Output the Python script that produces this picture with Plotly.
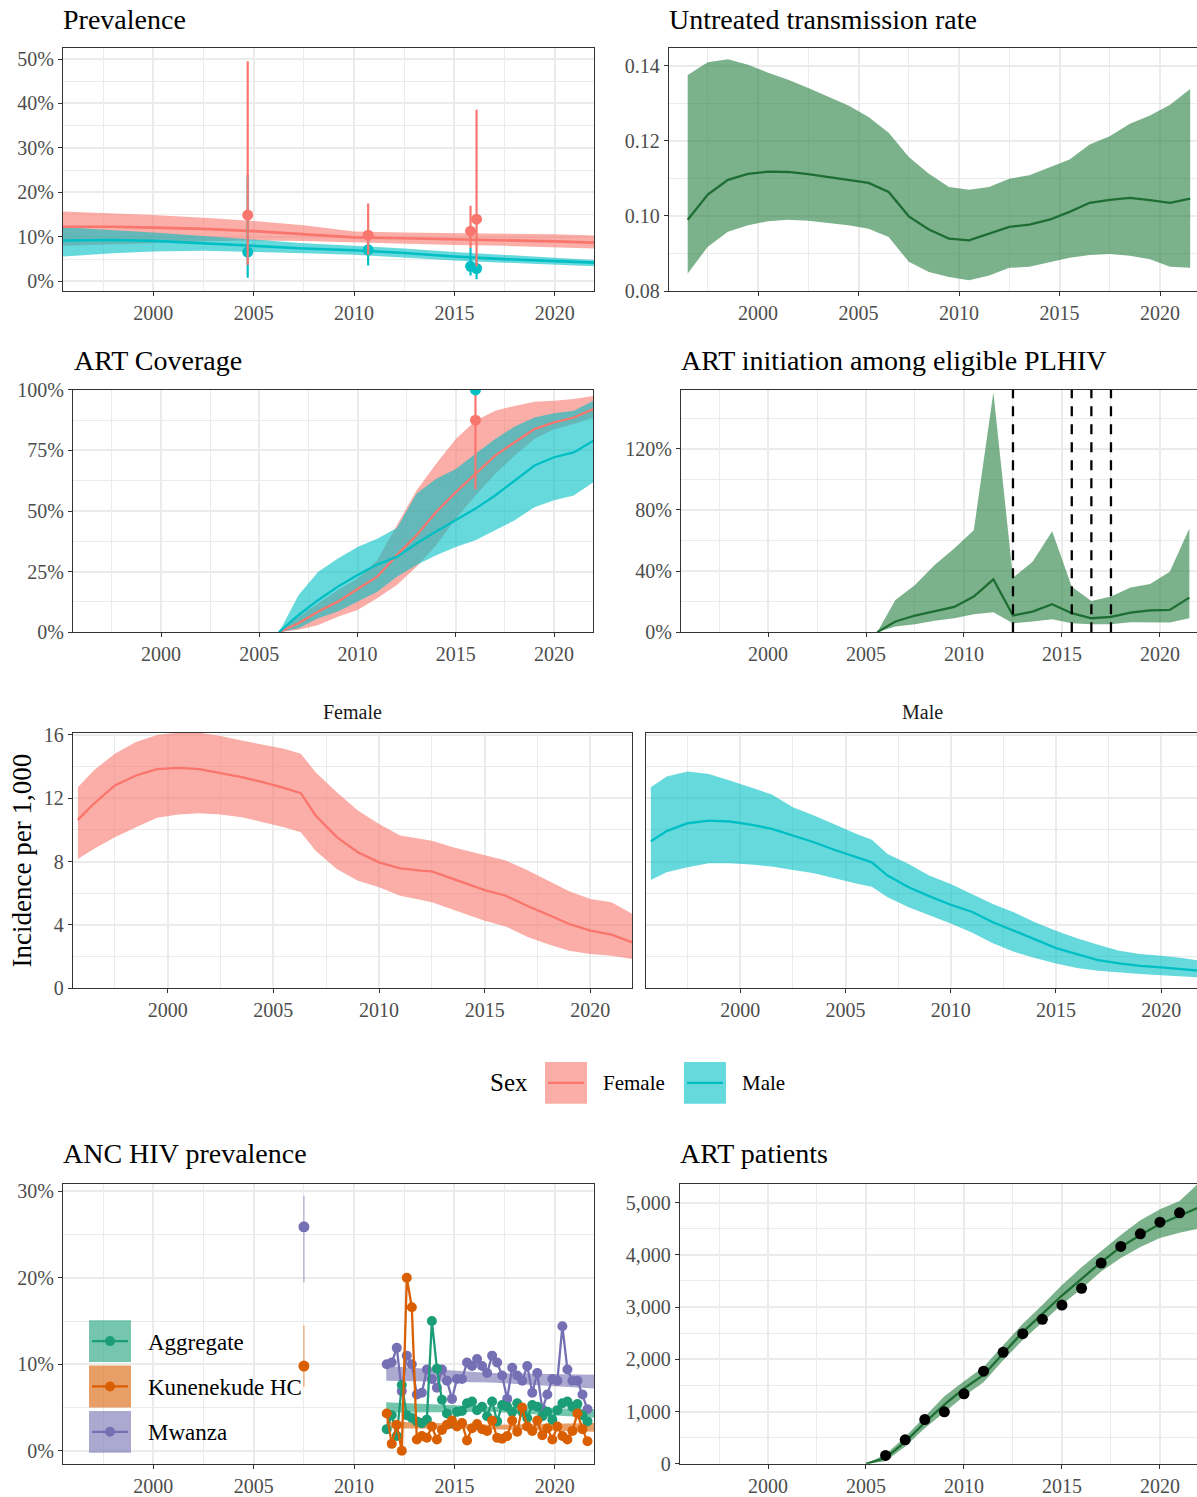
import plotly.graph_objects as go

W, H = 1197, 1497
FONT = "Liberation Serif"

# ---------------- data ----------------
# Prevalence model (percent), by sex
prev_years = [1995.5, 1998.0, 2000.0, 2002.5, 2005.0, 2007.5, 2010.0, 2012.5, 2015.0, 2017.5, 2020.0, 2022.0]
prev_f = [12.3, 12.3, 12.1, 11.8, 11.3, 10.6, 9.9, 9.7, 9.5, 9.3, 9.0, 8.7]
prev_f_lo = [8.0, 8.3, 8.6, 9.0, 9.2, 9.1, 8.9, 8.5, 8.2, 8.0, 7.7, 7.4]
prev_f_hi = [15.7, 15.3, 14.9, 14.3, 13.6, 12.6, 11.2, 11.0, 10.8, 10.7, 10.6, 10.3]
prev_m = [9.2, 9.3, 9.1, 8.6, 8.0, 7.4, 7.0, 6.4, 5.6, 5.0, 4.5, 4.2]
prev_m_lo = [5.6, 6.3, 6.7, 6.9, 6.6, 6.3, 6.0, 5.4, 4.7, 4.2, 3.7, 3.4]
prev_m_hi = [12.2, 11.6, 11.0, 10.2, 9.4, 8.6, 8.0, 7.4, 6.6, 5.9, 5.2, 4.8]
# Prevalence survey points (percent)
survey_years = [2004.7, 2010.7, 2015.8, 2016.1]
survey_f = [14.9, 10.4, 11.3, 14.0]
survey_f_lo = [3.7, 6.0, 7.5, 3.4]
survey_f_hi = [49.5, 17.5, 17.0, 38.6]
survey_m = [6.6, 7.1, 3.4, 2.9]
survey_m_lo = [0.8, 3.6, 1.3, 0.5]
survey_m_hi = [24.0, 10.0, 7.5, 6.0]

# Untreated transmission rate
trans_years = [1996.5, 1997.5, 1998.5, 1999.5, 2000.5, 2001.5, 2002.5, 2003.5, 2004.5, 2005.5,
               2006.5, 2007.5, 2008.5, 2009.5, 2010.5, 2011.5, 2012.5, 2013.5, 2014.5, 2015.5,
               2016.5, 2017.5, 2018.5, 2019.5, 2020.5, 2021.5]
trans_mid = [0.0990, 0.1057, 0.1096, 0.1112, 0.1118, 0.1117, 0.1111, 0.1104, 0.1096, 0.1088,
             0.1064, 0.0999, 0.0964, 0.0940, 0.0935, 0.0953, 0.0971, 0.0977, 0.0990, 0.1011,
             0.1035, 0.1043, 0.1048, 0.1042, 0.1035, 0.1046]
trans_hi = [0.1375, 0.1409, 0.1417, 0.1402, 0.1381, 0.1362, 0.1340, 0.1318, 0.1294, 0.1263,
            0.1221, 0.1157, 0.1112, 0.1077, 0.1070, 0.1077, 0.1099, 0.1108, 0.1130, 0.1150,
            0.1190, 0.1212, 0.1245, 0.1267, 0.1296, 0.1338]
trans_lo = [0.0847, 0.0918, 0.0958, 0.0975, 0.0986, 0.0990, 0.0987, 0.0981, 0.0975, 0.0966,
            0.0944, 0.0878, 0.0851, 0.0838, 0.0829, 0.0842, 0.0862, 0.0865, 0.0878, 0.0889,
            0.0896, 0.0899, 0.0894, 0.0885, 0.0865, 0.0862]

# ART coverage (percent)
cov_years = [2006, 2007, 2008, 2009, 2010, 2011, 2012, 2013, 2014, 2015, 2016, 2017, 2018, 2019, 2020, 2021, 2022]
cov_f = [0, 3.7, 8.5, 12.6, 17.8, 22.9, 31.8, 40.0, 49.6, 57.8, 65.3, 72.9, 78.4, 83.8, 86.6, 88.6, 92.1]
cov_f_hi = [0, 6.4, 11.9, 17.4, 22.2, 29.7, 44.1, 58.5, 69.5, 79.7, 87.3, 91.4, 93.4, 95.1, 95.5, 96.2, 97.5]
cov_f_lo = [0, 1.0, 3.0, 6.4, 9.2, 14.0, 19.5, 27.0, 35.9, 46.8, 56.4, 65.3, 72.9, 79.7, 83.8, 85.9, 88.6]
cov_m = [0, 7.1, 13.3, 18.8, 23.6, 27.9, 31.1, 36.6, 41.6, 46.2, 51.0, 56.4, 62.6, 68.8, 72.2, 74.2, 79.0]
cov_m_hi = [0, 15.3, 24.9, 30.4, 35.2, 38.6, 43.0, 57.1, 63.3, 67.4, 73.6, 79.7, 84.9, 88.6, 90.4, 91.4, 95.5]
cov_m_lo = [0, 1.6, 5.8, 8.5, 12.6, 16.7, 22.9, 27.7, 31.8, 35.2, 37.9, 42.1, 46.2, 51.6, 54.4, 56.4, 61.9]
cov_pt_years = [2016.0]
cov_pt_f = [87.5]
cov_pt_f_lo = [59.0]
cov_pt_f_hi = [100.0]
cov_pt_m = [100.0]

# ART initiation among eligible PLHIV (percent)
init_years = [2005.57, 2006.5, 2007.5, 2008.5, 2009.5, 2010.5, 2011.5, 2012.5, 2013.5, 2014.5,
              2015.5, 2016.5, 2017.5, 2018.5, 2019.5, 2020.5, 2021.5]
init_mid = [0, 7.0, 10.9, 13.9, 16.5, 23.3, 34.6, 10.9, 13.5, 18.3, 12.4, 9.1, 10.0, 12.8, 14.3, 14.6, 22.6]
init_hi = [0, 21.1, 30.9, 43.9, 54.8, 66.7, 157.0, 35.7, 46.1, 66.1, 29.8, 20.4, 23.3, 29.3, 31.5, 39.6, 67.8]
init_lo = [0, 3.7, 5.2, 7.4, 9.1, 11.7, 13.0, 5.9, 7.0, 8.5, 5.9, 5.2, 5.2, 6.5, 6.5, 6.3, 9.1]
policy_years = [2012.5, 2015.5, 2016.5, 2017.5]

# Incidence per 1,000
inc_years_f = [1995.75, 1996.5, 1997.5, 1998.5, 1999.5, 2000.5, 2001.5, 2002.5, 2003.5, 2004.5,
               2005.5, 2006.3, 2007, 2008, 2009, 2010, 2011, 2012, 2012.5, 2013.5,
               2015, 2016, 2017, 2018, 2019, 2020, 2021, 2022]
inc_f = [10.63, 11.65, 12.81, 13.44, 13.84, 13.92, 13.84, 13.59, 13.33, 13.02,
         12.66, 12.32, 10.91, 9.54, 8.59, 7.95, 7.57, 7.43, 7.38, 6.90,
         6.20, 5.84, 5.21, 4.64, 4.05, 3.63, 3.38, 2.89]
inc_f_hi = [12.70, 13.76, 14.81, 15.55, 16.0, 16.14, 16.14, 15.93, 15.65, 15.40,
            15.13, 14.81, 13.65, 12.38, 11.22, 10.38, 9.64, 9.43, 9.32, 8.90,
            8.38, 8.06, 7.47, 6.79, 6.12, 5.63, 5.42, 4.68]
inc_f_lo = [8.16, 8.80, 9.54, 10.17, 10.76, 10.97, 11.05, 10.97, 10.80, 10.49,
            10.17, 9.85, 8.69, 7.53, 6.79, 6.37, 5.84, 5.57, 5.42, 4.94,
            4.26, 3.90, 3.25, 2.78, 2.36, 2.15, 2.05, 1.84]
inc_years_m = [1995.75, 1996.5, 1997.5, 1998.5, 1999.5, 2000.5, 2001.5, 2002.5, 2003.5, 2004.5,
               2005.5, 2006.25, 2007, 2008, 2009, 2010, 2011, 2012, 2013, 2014,
               2015, 2016, 2017, 2018, 2019, 2020, 2021, 2022]
inc_m = [9.28, 9.92, 10.42, 10.59, 10.53, 10.34, 10.06, 9.64, 9.22, 8.73,
         8.31, 7.95, 7.11, 6.37, 5.80, 5.27, 4.83, 4.16, 3.63, 3.10,
         2.53, 2.15, 1.77, 1.56, 1.41, 1.31, 1.20, 1.08]
inc_m_hi = [12.70, 13.38, 13.69, 13.54, 13.12, 12.70, 12.24, 11.43, 10.91, 10.34,
            9.75, 9.37, 8.48, 7.85, 7.11, 6.58, 5.95, 5.32, 4.79, 4.16,
            3.63, 3.16, 2.74, 2.36, 2.15, 2.05, 1.90, 1.70]
inc_m_lo = [6.84, 7.32, 7.64, 7.89, 7.89, 7.81, 7.68, 7.47, 7.26, 6.96,
            6.62, 6.41, 5.74, 5.11, 4.58, 4.09, 3.52, 2.83, 2.30, 1.90,
            1.56, 1.27, 1.10, 0.99, 0.89, 0.82, 0.76, 0.66]

# ANC HIV prevalence (percent), quarterly site data
anc_quarters = [2011.625, 2011.875, 2012.125, 2012.375, 2012.625, 2012.875, 2013.125, 2013.375,
                2013.625, 2013.875, 2014.125, 2014.375, 2014.625, 2014.875, 2015.125, 2015.375,
                2015.625, 2015.875, 2016.125, 2016.375, 2016.625, 2016.875, 2017.125, 2017.375,
                2017.625, 2017.875, 2018.125, 2018.375, 2018.625, 2018.875, 2019.125, 2019.375,
                2019.625, 2019.875, 2020.125, 2020.375, 2020.625, 2020.875, 2021.125, 2021.375,
                2021.625]
anc_aggregate = [2.5, 4.1, 1.7, 7.6, 4.1, 3.8, 3.4, 3.2, 3.6, 15.0,
                 9.5, 5.9, 4.3, 3.2, 4.5, 4.6, 5.5, 5.7, 4.7, 5.1,
                 4.0, 5.7, 3.4, 5.3, 5.1, 4.5, 5.5, 4.5, 3.8, 5.3,
                 5.1, 4.0, 4.5, 3.6, 4.7, 5.5, 5.7, 5.1, 5.4, 4.1,
                 3.4]
anc_kunenekude = [4.3, 0.8, 3.0, 0.0, 20.0, 16.6, 1.3, 1.7, 1.5, 2.8,
                  1.3, 2.4, 3.0, 3.5, 2.8, 3.2, 1.2, 2.6, 3.1, 2.5,
                  2.3, 3.5, 1.5, 1.4, 1.7, 3.5, 2.2, 5.0, 2.8, 2.3,
                  3.5, 1.8, 2.6, 1.3, 2.8, 1.7, 1.3, 2.3, 4.3, 2.5,
                  1.1]
anc_mwanza = [10.0, 10.2, 11.9, 6.9, 11.0, 10.0, 6.5, 6.7, 9.4, 8.3,
              7.3, 9.4, 8.1, 6.0, 8.3, 8.3, 10.2, 9.8, 10.6, 9.8,
              9.0, 11.0, 10.2, 8.7, 6.0, 9.6, 8.7, 8.1, 9.8, 6.7,
              9.0, 4.8, 6.5, 8.3, 8.1, 14.4, 9.4, 8.1, 8.1, 6.5,
              4.8]
# early survey points (percent)
anc_early_year = [2007.5]
anc_early_kun = [9.8]
anc_early_kun_lo = [7.4]
anc_early_kun_hi = [14.5]
anc_early_mwa = [25.9]
anc_early_mwa_lo = [19.5]
anc_early_mwa_hi = [29.5]
# fitted ribbons (percent)
anc_fit_years = [2011.6, 2016.8, 2022.0]
agg_fit_lo = [4.4, 4.5, 3.8]
agg_fit_hi = [5.6, 5.1, 4.8]
kun_fit_lo = [2.6, 2.5, 2.2]
kun_fit_hi = [3.4, 3.0, 3.2]
mwa_fit_lo = [8.1, 7.9, 7.2]
mwa_fit_hi = [9.8, 9.0, 8.8]
anc_sites = ["Aggregate", "Kunenekude HC", "Mwanza"]

# ART patients
pat_pt_years = [2006, 2007, 2008, 2009, 2010, 2011, 2012, 2013, 2014, 2015, 2016, 2017, 2018, 2019, 2020, 2021]
pat_pts = [159, 459, 847, 994, 1338, 1771, 2134, 2490, 2764, 3038, 3357, 3841, 4159, 4401, 4624, 4803]
pat_years = [2005, 2006, 2007, 2008, 2009, 2010, 2011, 2012, 2013, 2014, 2015, 2016, 2017, 2018, 2019, 2020, 2021, 2022]
pat_mid = [0, 110, 420, 790, 1130, 1440, 1700, 2120, 2520, 2870, 3220, 3540, 3860, 4150, 4380, 4590, 4750, 4910]
pat_hi = [0, 180, 510, 900, 1290, 1580, 1850, 2270, 2680, 3040, 3420, 3760, 4070, 4380, 4660, 4870, 5030, 5380]
pat_lo = [0, 50, 330, 680, 980, 1290, 1560, 1980, 2370, 2710, 3050, 3350, 3680, 3940, 4150, 4320, 4420, 4500]

# ---------------- styles ----------------
F_COL, M_COL = "#F8766D", "#00BFC4"
F_FILL, M_FILL = "rgba(248,118,109,0.6)", "rgba(0,191,196,0.6)"
G_LINE, G_FILL = "#1E6E34", "rgba(27,120,55,0.58)"
ANC_COL = {"Aggregate": "#1B9E77", "Kunenekude HC": "#D95F02", "Mwanza": "#7570B3"}
ANC_FILL = {"Aggregate": "rgba(27,158,119,0.6)", "Kunenekude HC": "rgba(217,95,2,0.6)",
            "Mwanza": "rgba(117,112,179,0.6)"}
GRID = "#EBEBEB"
AX = "#333333"
TICKF = dict(family=FONT, size=20, color="#4D4D4D")


def pct(v):
    return [a / 100.0 for a in v]


def px_x(p):
    return p / W


def ry(p):
    # map a reference pixel row to the layout pixel row (compensates measured offset)
    return (p - 11.0) / 0.9835


def px_y(p):
    return 1 - ry(p) / H


fig = go.Figure()


def ribbon(x, lo, hi, fill, n):
    fig.add_trace(go.Scatter(x=list(x) + list(x)[::-1], y=list(hi) + list(lo)[::-1],
                             fill="toself", fillcolor=fill, line=dict(width=0), mode="lines",
                             hoverinfo="skip", showlegend=False, xaxis="x%d" % n, yaxis="y%d" % n))


def line(x, y, color, n, width=2.3):
    fig.add_trace(go.Scatter(x=x, y=y, mode="lines", line=dict(color=color, width=width),
                             showlegend=False, xaxis="x%d" % n, yaxis="y%d" % n))


def points(x, y, color, n, size=11, lo=None, hi=None, ecolor=None, ewidth=2.2):
    err = None
    if lo is not None:
        err = dict(type="data", symmetric=False,
                   array=[h - v for h, v in zip(hi, y)],
                   arrayminus=[v - l for v, l in zip(y, lo)],
                   color=ecolor or color, thickness=ewidth, width=0)
    fig.add_trace(go.Scatter(x=x, y=y, mode="markers", marker=dict(color=color, size=size),
                             error_y=err, showlegend=False, xaxis="x%d" % n, yaxis="y%d" % n))


# Panel 1: Prevalence
ribbon(prev_years, pct(prev_f_lo), pct(prev_f_hi), F_FILL, 1)
ribbon(prev_years, pct(prev_m_lo), pct(prev_m_hi), M_FILL, 1)
line(prev_years, pct(prev_f), F_COL, 1, 2.6)
line(prev_years, pct(prev_m), M_COL, 1, 2.6)
points(survey_years, pct(survey_m), M_COL, 1, lo=pct(survey_m_lo), hi=pct(survey_m_hi))
points(survey_years, pct(survey_f), F_COL, 1, lo=pct(survey_f_lo), hi=pct(survey_f_hi))

# Panel 2: Untreated transmission rate
ribbon(trans_years, trans_lo, trans_hi, G_FILL, 2)
line(trans_years, trans_mid, G_LINE, 2)

# Panel 3: ART coverage
ribbon(cov_years, pct(cov_f_lo), pct(cov_f_hi), F_FILL, 3)
ribbon(cov_years, pct(cov_m_lo), pct(cov_m_hi), M_FILL, 3)
line(cov_years, pct(cov_f), F_COL, 3)
line(cov_years, pct(cov_m), M_COL, 3)
points(cov_pt_years, pct(cov_pt_f), F_COL, 3, size=11, lo=pct(cov_pt_f_lo), hi=pct(cov_pt_f_hi))
points(cov_pt_years, pct(cov_pt_m), M_COL, 3, size=11)

# Panel 4: ART initiation
ribbon(init_years, pct(init_lo), pct(init_hi), G_FILL, 4)
line(init_years, pct(init_mid), G_LINE, 4)

# Panel 5/6: incidence
ribbon(inc_years_f, inc_f_lo, inc_f_hi, F_FILL, 5)
line(inc_years_f, inc_f, F_COL, 5)
ribbon(inc_years_m, inc_m_lo, inc_m_hi, M_FILL, 6)
line(inc_years_m, inc_m, M_COL, 6)

# Panel 7: ANC prevalence
ribbon(anc_fit_years, pct(mwa_fit_lo), pct(mwa_fit_hi), ANC_FILL["Mwanza"], 7)
ribbon(anc_fit_years, pct(agg_fit_lo), pct(agg_fit_hi), ANC_FILL["Aggregate"], 7)
ribbon(anc_fit_years, pct(kun_fit_lo), pct(kun_fit_hi), ANC_FILL["Kunenekude HC"], 7)
for site, vals in [("Mwanza", anc_mwanza), ("Aggregate", anc_aggregate), ("Kunenekude HC", anc_kunenekude)]:
    fig.add_trace(go.Scatter(x=anc_quarters, y=pct(vals), mode="lines+markers",
                             line=dict(color=ANC_COL[site], width=2.3),
                             marker=dict(color=ANC_COL[site], size=10),
                             showlegend=False, xaxis="x7", yaxis="y7"))
points(anc_early_year, pct(anc_early_mwa), ANC_COL["Mwanza"], 7, size=11,
       lo=pct(anc_early_mwa_lo), hi=pct(anc_early_mwa_hi),
       ecolor="rgba(117,112,179,0.45)", ewidth=1.6)
points(anc_early_year, pct(anc_early_kun), ANC_COL["Kunenekude HC"], 7, size=11,
       lo=pct(anc_early_kun_lo), hi=pct(anc_early_kun_hi),
       ecolor="rgba(217,95,2,0.4)", ewidth=1.6)

# Panel 8: ART patients
ribbon(pat_years, pat_lo, pat_hi, G_FILL, 8)
line(pat_years, pat_mid, G_LINE, 8)
points(pat_pt_years, pat_pts, "black", 8, size=11)

# ---------------- axes ----------------
panels = {
    # n: (left, right, top, bottom) in px, xrange, yrange, right border visible
    1: ((63, 594, 48, 292), [1995.5, 2021.95], [-0.022, 0.525], True),
    2: ((669, 1197, 48, 292), [1995.57, 2021.84], [0.08, 0.1447], False),
    3: ((73, 593, 391, 634), [1995.52, 2021.98], [0, 1.0], True),
    4: ((681, 1197, 391, 634), [1995.56, 2021.89], [0, 1.585], False),
    5: ((73, 632, 735, 991), [1995.52, 2021.97], [0, 16.13], True),
    6: ((646, 1197, 735, 991), [1995.52, 2021.7], [0, 16.13], False),
    7: ((63, 594, 1187, 1468), [1995.5, 2021.95], [-0.015, 0.309], True),
    8: ((680, 1197, 1187, 1468), [1995.51, 2021.89], [0, 5363], False),
}
yfmt = {
    1: dict(dtick=0.1, tick0=0, tickformat=".0%", minor=0.05),
    2: dict(dtick=0.02, tick0=0.08, tickformat=".2f", minor=0.01),
    3: dict(dtick=0.25, tick0=0, tickformat=".0%", minor=0.125),
    4: dict(dtick=0.4, tick0=0, tickformat=".0%", minor=0.2),
    5: dict(dtick=4, tick0=0, tickformat="d", minor=2),
    6: dict(dtick=4, tick0=0, tickformat="d", minor=2),
    7: dict(dtick=0.1, tick0=0, tickformat=".0%", minor=0.05),
    8: dict(dtick=1000, tick0=0, tickformat=",d", minor=500),
}

layout = dict(width=W, height=H, margin=dict(l=0, r=0, t=0, b=0),
              paper_bgcolor="white", plot_bgcolor="white", showlegend=False,
              font=dict(family=FONT, color="black"))

for n, (box, xr, yr, rborder) in panels.items():
    l, r, t, b = box
    key = "" if n == 1 else str(n)
    layout["xaxis" + key] = dict(
        domain=[px_x(l), px_x(r)], range=xr, anchor="y" + key,
        tickmode="linear", tick0=2000, dtick=5, ticks="outside", ticklen=4,
        tickwidth=1.3, tickcolor=AX, showline=True, linecolor=AX, linewidth=1.4,
        mirror=True, showgrid=True, gridcolor=GRID, gridwidth=1.7, zeroline=False,
        minor=dict(tick0=2000, dtick=2.5, showgrid=True, gridcolor=GRID, gridwidth=0.9),
        tickfont=TICKF, fixedrange=True)
    f = yfmt[n]
    layout["yaxis" + key] = dict(
        domain=[max(0.0, px_y(b)), min(1.0, px_y(t))], range=yr, anchor="x" + key,
        tickmode="linear", tick0=f["tick0"], dtick=f["dtick"], tickformat=f["tickformat"],
        ticks="" if n == 6 else "outside", ticklen=4, tickwidth=1.3, tickcolor=AX,
        showticklabels=(n != 6),
        showline=True, linecolor=AX, linewidth=1.4, mirror=rborder,
        showgrid=True, gridcolor=GRID, gridwidth=1.7, zeroline=False,
        minor=dict(tick0=f["tick0"], dtick=f["minor"], showgrid=True, gridcolor=GRID, gridwidth=0.9),
        tickfont=TICKF, fixedrange=True)

# ---------------- text ----------------
ann = []


def text(s, x, y, size, xanchor="left", color="black", angle=0):
    ann.append(dict(text=s, x=px_x(x), y=px_y(y), xref="paper", yref="paper",
                    xanchor=xanchor, yanchor="middle", showarrow=False, textangle=angle,
                    font=dict(family=FONT, size=size, color=color)))


text("Prevalence", 61, 20, 28)
text("Untreated transmission rate", 667, 20, 28)
text("ART Coverage", 72, 362, 28)
text("ART initiation among eligible PLHIV", 679, 362, 28)
text("ANC HIV prevalence", 61, 1157, 28)
text("ART patients", 678, 1157, 28)
text("Female", 352, 714, 20, "center", "#1A1A1A")
text("Male", 922, 714, 20, "center", "#1A1A1A")
text("Incidence per 1,000", 22, 863, 27, "center", angle=-90)
text("Sex", 509, 1086, 25, "center")
text("Female", 601, 1086, 21)
text("Male", 740, 1086, 21)
for i, site in enumerate(anc_sites):
    text(site, 146, 1346 + i * 45.5, 23)

shapes = []
# policy change dashed lines
for yv in policy_years:
    shapes.append(dict(type="line", xref="x4", yref="y4 domain", x0=yv, x1=yv, y0=0, y1=1,
                       line=dict(color="black", width=2.3, dash="10px,8px"), layer="above"))


def key_box(x0, y0, x1, y1, fill, col, lw=2.2, dot=False):
    shapes.append(dict(type="rect", xref="paper", yref="paper", x0=px_x(x0), x1=px_x(x1),
                       y0=px_y(y1), y1=px_y(y0), fillcolor=fill, line=dict(width=0), layer="above"))
    cy = (y0 + y1) / 2
    shapes.append(dict(type="line", xref="paper", yref="paper", x0=px_x(x0 + 3), x1=px_x(x1 - 3),
                       y0=px_y(cy), y1=px_y(cy), line=dict(color=col, width=lw), layer="above"))
    if dot:
        cx = (x0 + x1) / 2
        rr = 5
        shapes.append(dict(type="circle", xref="paper", yref="paper", x0=px_x(cx - rr), x1=px_x(cx + rr),
                           y0=px_y(cy + rr), y1=px_y(cy - rr), fillcolor=col, line=dict(width=0),
                           layer="above"))


key_box(545, 1065, 587, 1107, F_FILL, F_COL)
key_box(684, 1065, 726, 1107, M_FILL, M_COL)
for i, site in enumerate(anc_sites):
    y0 = 1324 + i * 45.5
    key_box(89, y0, 131, y0 + 42, ANC_FILL[site], ANC_COL[site], lw=2.2, dot=True)

layout["annotations"] = ann
layout["shapes"] = shapes
fig.update_layout(**layout)
fig.write_html("out.html", config={"displayModeBar": False},
               post_script="document.body.style.margin='0px';document.body.style.overflow='hidden';")
